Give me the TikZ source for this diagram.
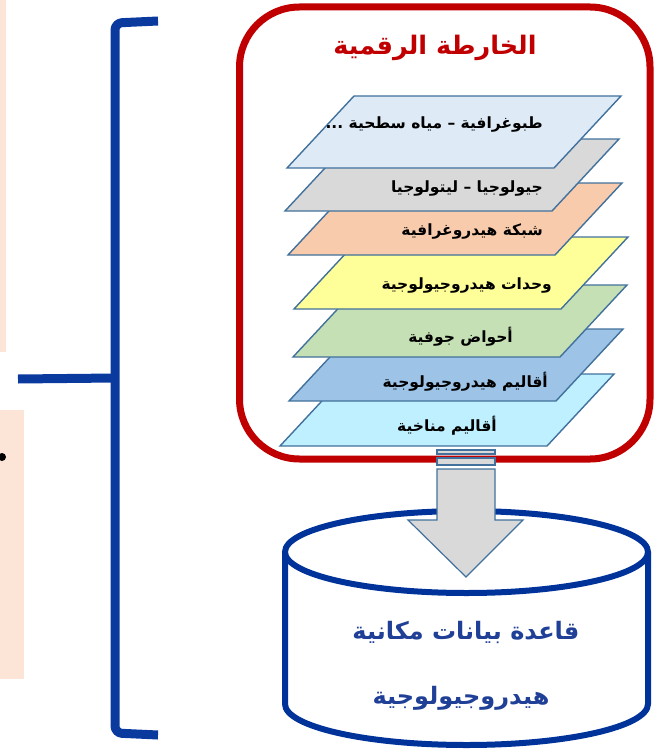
\documentclass[tikz,border=0pt]{standalone}
\usepackage{fontspec}
\newfontfamily\arabicfont[Script=Arabic]{DejaVu Sans}
\TeXXeTstate=1
\definecolor{peach}{HTML}{FCE4D6}
\definecolor{bracecol}{HTML}{0A3A9E}
\definecolor{framered}{HTML}{C00000}
\definecolor{edgeblue}{HTML}{41719C}
\definecolor{lay1}{HTML}{DEEBF7}
\definecolor{lay2}{HTML}{D9D9D9}
\definecolor{lay3}{HTML}{F8CBAD}
\definecolor{lay4}{HTML}{FFFF99}
\definecolor{lay5}{HTML}{C5E0B4}
\definecolor{lay6}{HTML}{9DC3E6}
\definecolor{lay7}{HTML}{BFF0FF}
\definecolor{dbblue}{HTML}{003399}
\definecolor{dbtext}{HTML}{1F4096}
\newcommand\mylayer[4]{%
  \path[layerbox,fill=#3] (#1,#2) -- (#1-267,#2) -- (#1-334,#2+72) -- (#1-67,#2+72) -- cycle;
}
\begin{document}
\begin{tikzpicture}[x=1pt,y=-1pt,
  layerbox/.style={draw=edgeblue,line width=1.4pt,line join=miter},
  laytext/.style={font=\arabicfont\bfseries\fontsize{15.5}{18}\selectfont,inner sep=0pt,anchor=east},
  dbstyle/.style={font=\arabicfont\bfseries\fontsize{24}{28}\selectfont,text=dbtext,inner sep=0pt},
  bracestyle/.style={draw=bracecol,line width=9pt,line join=round,rounded corners=7pt},
  arrowpart/.style={draw=edgeblue,fill=lay2,line width=1.2pt}]
\useasboundingbox (0,0) rectangle (656,749);
% left peach panels
\fill[peach] (0,0) rectangle (6,352);
\fill[peach] (0,410) rectangle (24,679);
\fill[black] (2,457) circle (4);
% bracket
\draw[bracestyle] (158,21) -- (115,23) -- (115,733) -- (158,735);
\draw[bracestyle] (18,379) -- (115,378);
% red frame
\draw[framered,line width=7pt,rounded corners=60pt] (239.5,7) rectangle (650,459);
\node[font=\arabicfont\bfseries\fontsize{25.5}{30}\selectfont,text=framered,inner sep=0pt] (title) at (435,48) {\beginR الخارطة الرقمية\endR};
% layers bottom to top
\mylayer{614}{374}{lay7}{}
\mylayer{623}{329}{lay6}{}
\mylayer{627}{285}{lay5}{}
\mylayer{628}{237}{lay4}{}
\mylayer{622}{183}{lay3}{}
\mylayer{619}{139}{lay2}{}
\mylayer{621}{96}{lay1}{}
\node[laytext] (t1) at (543,125) {\beginR طبوغرافية – مياه سطحية ...\endR};
\node[laytext] (t2) at (543,189) {\beginR جيولوجيا – ليتولوجيا\endR};
\node[laytext] (t3) at (543,232) {\beginR شبكة هيدروغرافية\endR};
\node[laytext] (t4) at (552,286) {\beginR وحدات هيدروجيولوجية\endR};
\node[laytext] (t5) at (513,337) {\beginR أحواض جوفية\endR};
\node[laytext] (t6) at (548,382) {\beginR أقاليم هيدروجيولوجية\endR};
\node[laytext] (t7) at (497,426) {\beginR أقاليم مناخية\endR};
% cylinder
\path[draw=dbblue,fill=white,line width=6pt]
  (285,552) -- (285,704) arc[start angle=180,end angle=0,x radius=181.5,y radius=41] -- (648,552);
\draw[dbblue,fill=white,line width=6pt] (466.5,552) ellipse[x radius=181.5,y radius=41];
% block arrow
\draw[arrowpart] (437,450) rectangle (495,454);
\draw[arrowpart] (437,458) rectangle (495,465);
\draw[arrowpart] (437,469) -- (495,469) -- (495,520) -- (523,520) -- (466,577) -- (408,520) -- (437,520) -- cycle;
\node[dbstyle] (db1) at (466,632) {\beginR قاعدة بيانات مكانية\endR};
\node[dbstyle] (db2) at (461,698) {\beginR هيدروجيولوجية\endR};
\end{tikzpicture}
\end{document}
